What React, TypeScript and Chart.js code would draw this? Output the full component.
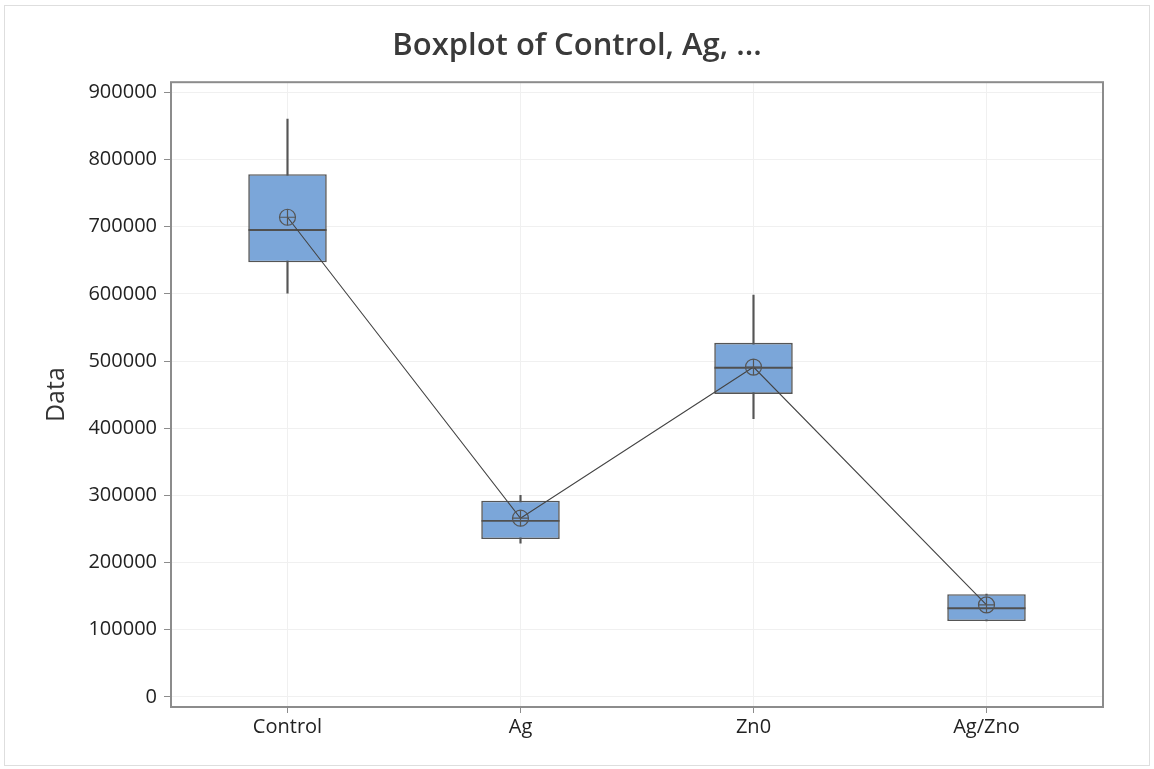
import React, { useEffect, useRef } from "react";
import { Chart, registerables } from "chart.js";

Chart.register(...registerables);

const categories = ["Control", "Ag", "Zn0", "Ag/Zno"];
const whiskerMin = [601000, 229000, 414000, 113000];
const q1 = [647000, 235000, 451000, 113000];
const median = [695000, 262000, 490000, 132000];
const q3 = [778000, 292000, 527000, 153000];
const whiskerMax = [860000, 300000, 598000, 153000];
const means = [714000, 266000, 491000, 137000];
const yTicks = [0, 100000, 200000, 300000, 400000, 500000, 600000, 700000, 800000, 900000];

const FONT = "'Open Sans', 'Noto Sans', sans-serif";

const frameBorder = {
  id: "frameBorder",
  afterDatasetsDraw(chart: any) {
    const { ctx, chartArea } = chart;
    ctx.save();
    ctx.strokeStyle = "#8c8c8c";
    ctx.lineWidth = 2;
    ctx.strokeRect(chartArea.left, chartArea.top, chartArea.right - chartArea.left, chartArea.bottom - chartArea.top);
    ctx.restore();
  },
};

export default function App() {
  const ref = useRef<HTMLCanvasElement>(null);
  useEffect(() => {
    const boxData = categories.map((_, i) => [q1[i], q3[i]]);
    const whiskerData = categories.map((_, i) => [whiskerMin[i], whiskerMax[i]]);
    const chart = new Chart(ref.current as HTMLCanvasElement, {
      type: "bar",
      data: {
        labels: categories,
        datasets: [
          {
            type: "bar",
            data: whiskerData as any,
            backgroundColor: "#555555",
            barThickness: 1.5,
            grouped: false,
            order: 5,
          } as any,
          {
            type: "bar",
            data: boxData as any,
            backgroundColor: "#7ba6d9",
            borderColor: "#555555",
            borderWidth: 1.6,
            borderSkipped: false,
            barPercentage: 0.337,
            categoryPercentage: 1,
            grouped: false,
            order: 4,
          } as any,
          {
            type: "line",
            data: median,
            showLine: false,
            pointStyle: "line",
            pointRadius: 39,
            pointBorderWidth: 1.8,
            pointBorderColor: "#505050",
            order: 3,
          } as any,
          {
            type: "line",
            data: means,
            borderColor: "#444444",
            borderWidth: 1.1,
            pointRadius: 0,
            order: 2,
          } as any,
          {
            type: "line",
            data: means,
            showLine: false,
            pointStyle: "circle",
            pointRadius: 8,
            pointBackgroundColor: "rgba(0,0,0,0)",
            pointBorderColor: "#555555",
            pointBorderWidth: 1.2,
            order: 1,
          } as any,
          {
            type: "line",
            data: means,
            showLine: false,
            pointStyle: "cross",
            pointRadius: 8,
            pointBorderColor: "#555555",
            pointBorderWidth: 1.2,
            order: 0,
          } as any,
        ],
      },
      options: {
        animation: false,
        responsive: false,
        layout: { padding: 0 },
        plugins: {
          legend: { display: false },
          tooltip: { enabled: false },
          title: {
            display: true,
            text: "Boxplot of Control, Ag, ...",
            color: "#3a3a3a",
            font: { family: FONT, size: 31, weight: "600" },
            padding: { top: 28, bottom: 17 },
          },
        },
        scales: {
          x: {
            type: "category",
            offset: true,
            grid: { offset: false, color: "#f0f0f0", tickColor: "#8c8c8c", tickLength: 6, drawTicks: true },
            border: { display: false },
            ticks: { color: "#222", font: { family: FONT, size: 20 }, padding: 2 },
            afterFit(scale: any) {
              scale.height = 62;
            },
          },
          y: {
            type: "linear",
            min: -15000,
            max: 915000,
            grid: { color: "#f0f0f0", tickColor: "#8c8c8c", tickLength: 7 },
            border: { display: false },
            afterBuildTicks(scale: any) {
              scale.ticks = yTicks.map((v) => ({ value: v }));
            },
            ticks: {
              color: "#222",
              font: { family: FONT, size: 20 },
              padding: 7,
              callback: (v: any) => String(v),
            },
            title: {
              display: true,
              text: "Data",
              color: "#333",
              font: { family: FONT, size: 25 },
              padding: { top: 42, bottom: 0 },
            },
            afterFit(scale: any) {
              scale.width = 171;
            },
          },
          yRight: {
            type: "linear",
            position: "right",
            display: true,
            min: -15000,
            max: 915000,
            grid: { display: false, drawTicks: false },
            border: { display: false },
            ticks: { display: false },
            afterFit(scale: any) {
              scale.width = 51;
            },
          },
        },
      },
      plugins: [frameBorder],
    });
    return () => chart.destroy();
  }, []);

  return (
    <div style={{ position: "fixed", left: 0, top: 0, width: 1154, height: 769, background: "#fff" }}>
      <div
        style={{
          position: "absolute",
          left: 4,
          top: 5,
          width: 1146,
          height: 761,
          border: "1px solid #dedede",
          boxSizing: "border-box",
        }}
      />
      <canvas ref={ref} width={1154} height={769} style={{ position: "absolute", left: 0, top: 0 }} />
    </div>
  );
}
